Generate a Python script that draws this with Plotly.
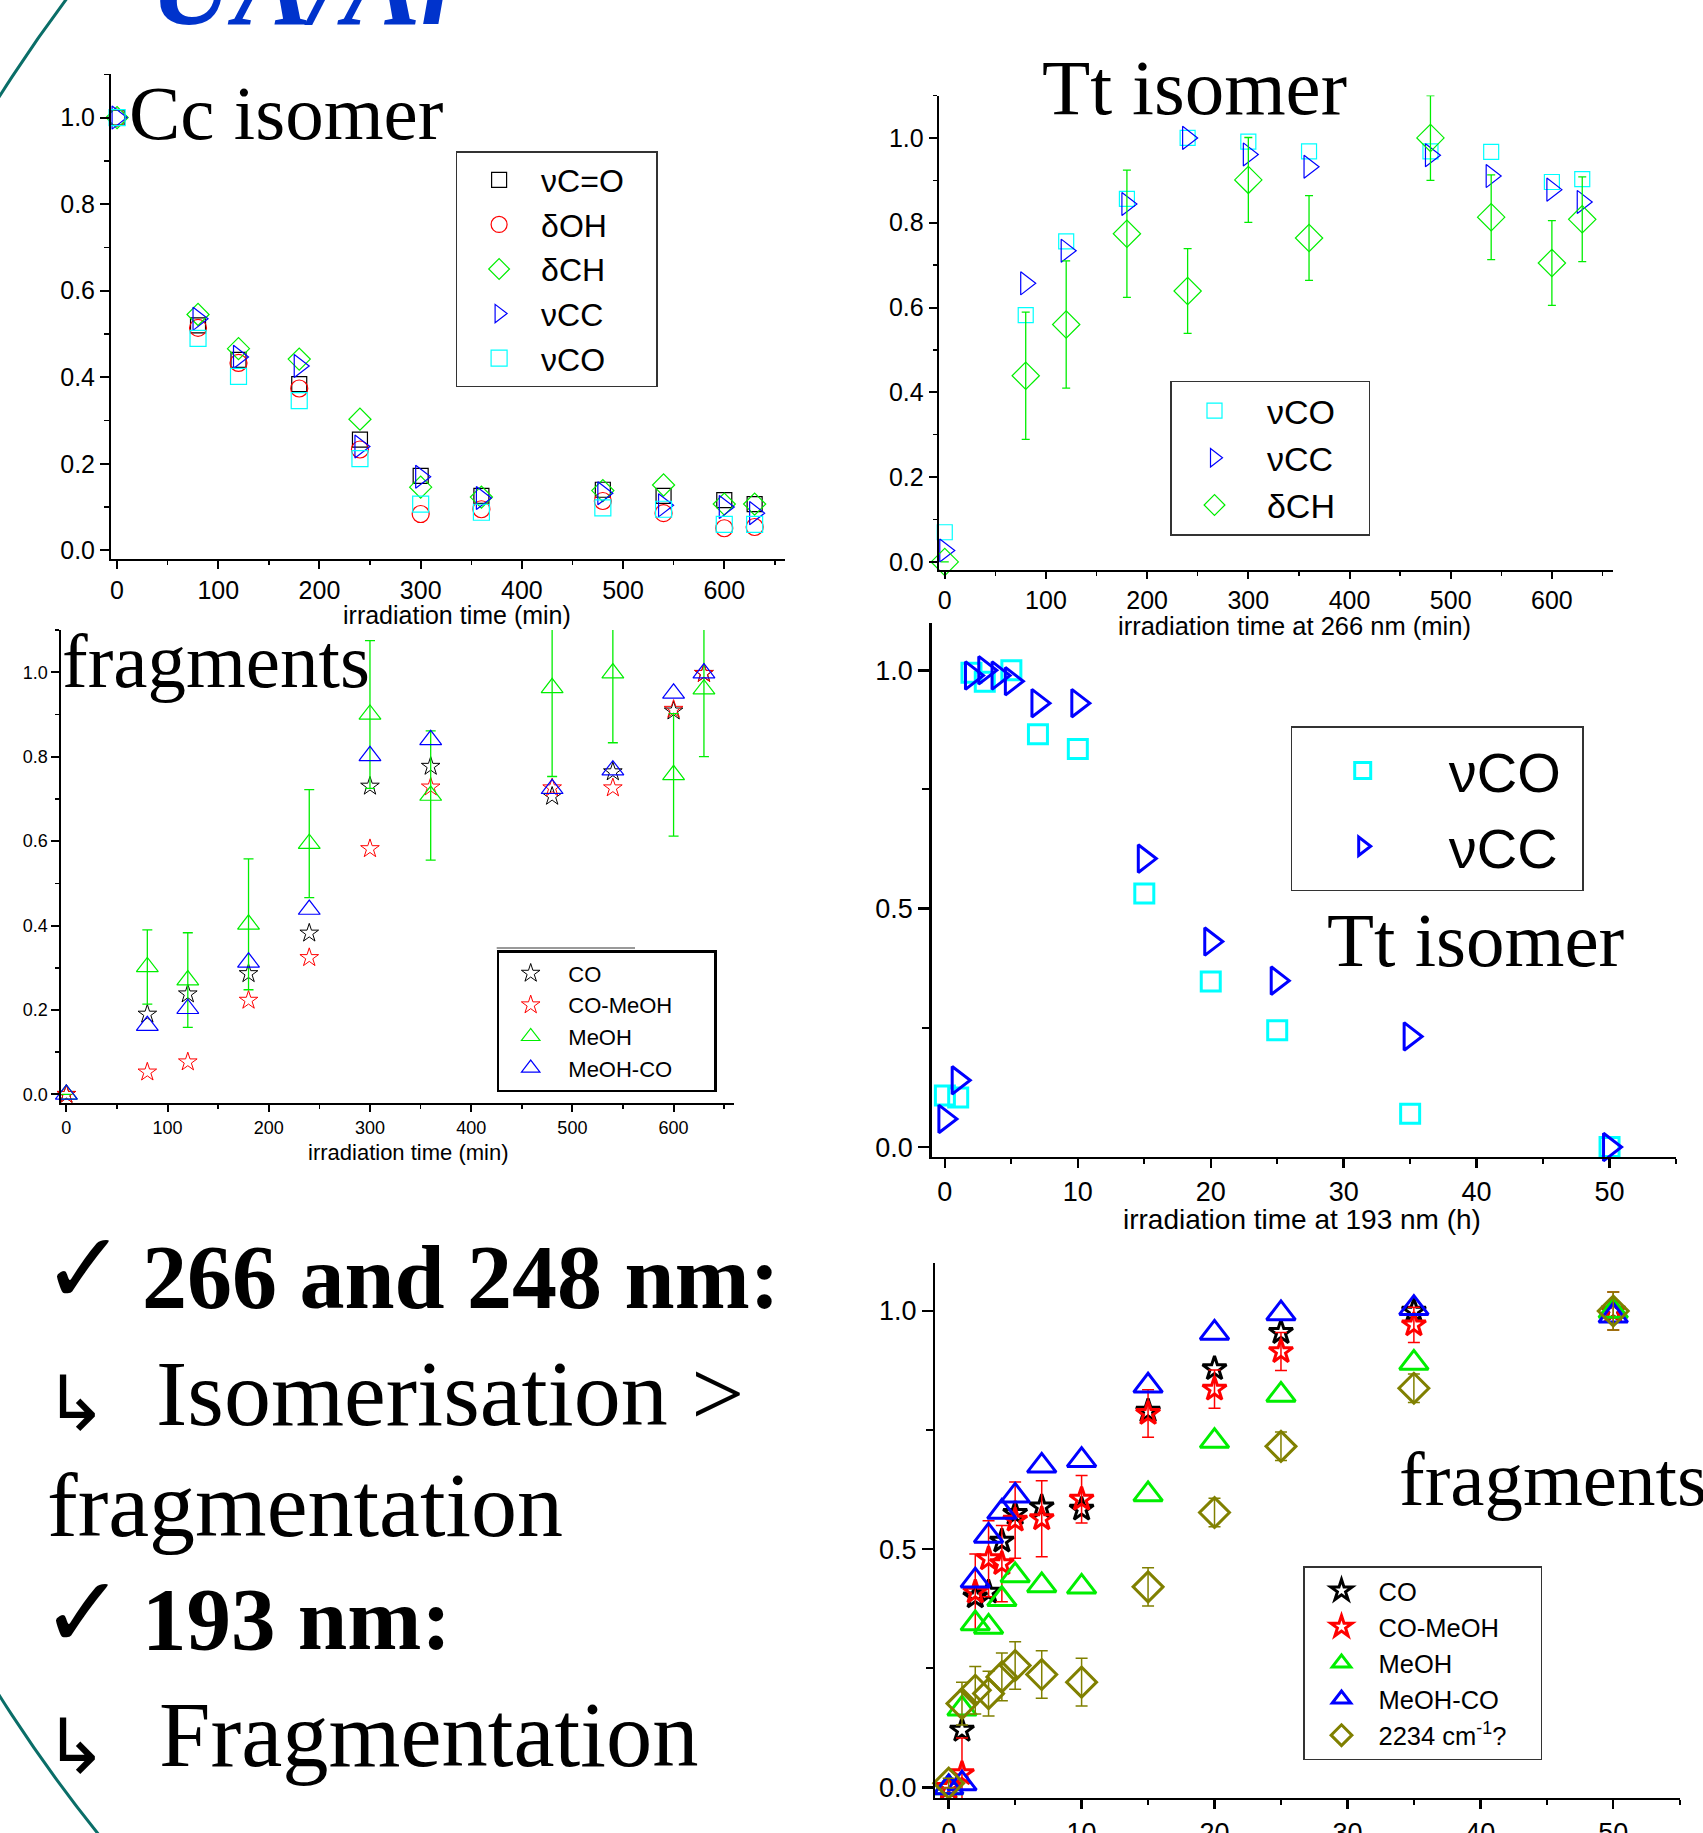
import plotly.graph_objects as go

W, H = 1703, 1833

# ---------------- data ----------------
# Panel A : Cc isomer (266 nm), time in min
cc_time = [0, 80, 120, 180, 240, 300, 360, 480, 540, 600, 630]
cc_vCeqO = [1.0, 0.52, 0.44, 0.384, 0.256, 0.172, 0.126, 0.14, 0.126, 0.116, 0.107]
cc_dOH = [1.0, 0.514, 0.433, 0.374, 0.233, 0.084, 0.095, 0.114, 0.086, 0.051, 0.054]
cc_dCH = [1.0, 0.545, 0.466, 0.442, 0.303, 0.146, 0.123, 0.138, 0.151, 0.107, 0.107]
cc_vCC = [1.0, 0.535, 0.447, 0.426, 0.240, 0.170, 0.121, 0.132, 0.104, 0.100, 0.086]
cc_vCO = [1.0, 0.49, 0.402, 0.346, 0.212, 0.107, 0.088, 0.098, 0.095, 0.060, 0.060]

# Panel B : Tt isomer (266 nm), time in min
tt_time = [0, 80, 120, 180, 240, 300, 360, 480, 540, 600, 630]
tt_vCO = [0.07, 0.582, 0.756, 0.856, 1.0, 0.991, 0.968, 0.968, 0.967, 0.896, 0.903]
tt_vCC = [0.027, 0.657, 0.734, 0.844, 1.0, 0.961, 0.932, 0.959, 0.91, 0.878, 0.849]
tt_dCH = [0.0, 0.439, 0.56, 0.774, 0.639, 0.901, 0.764, 1.0, 0.813, 0.705, 0.808]
tt_dCH_err = [0.0, 0.15, 0.15, 0.15, 0.10, 0.10, 0.10, 0.10, 0.10, 0.10, 0.10]

# Panel C : fragments (266 nm), time in min
fr_time = [0, 80, 120, 180, 240, 300, 360, 480, 540, 600, 630]
fr_CO = [0.0, 0.19, 0.238, 0.286, 0.382, 0.73, 0.777, 0.706, 0.764, 0.908, 0.997]
fr_COMeOH = [0.0, 0.053, 0.077, 0.223, 0.324, 0.582, 0.728, 0.726, 0.726, 0.912, 0.997]
fr_MeOH = [0.0, 0.302, 0.271, 0.403, 0.594, 0.90, 0.708, 0.963, 0.998, 0.757, 0.96]
fr_MeOH_err = [0.0, 0.088, 0.112, 0.155, 0.128, 0.175, 0.153, 0.21, 0.165, 0.145, 0.16]
fr_MeOHCO = [0.0, 0.163, 0.203, 0.313, 0.438, 0.802, 0.84, 0.724, 0.768, 0.95, 0.998]

# Panel D : Tt isomer (193 nm), time in h
t193_vCO_time = [0, 1, 2, 3, 5, 7, 10, 15, 20, 25, 35, 50]
t193_vCO = [0.108, 0.104, 0.995, 0.976, 1.0, 0.866, 0.835, 0.532, 0.347, 0.245, 0.070, 0.0]
t193_vCC_time = [0, 1, 2, 3, 4, 5, 7, 10, 15, 20, 25, 35, 50]
t193_vCC = [0.059, 0.14, 0.989, 1.0, 0.989, 0.977, 0.931, 0.931, 0.605, 0.431, 0.349, 0.232, 0.0]

# Panel E : fragments (193 nm), time in h
f193_time = [0, 1, 2, 3, 4, 5, 7, 10, 15, 20, 25, 35, 50]
f193_CO = [0.0, 0.12, 0.40, 0.41, 0.517, 0.575, 0.589, 0.584, 0.79, 0.879, 0.955, 1.0, 1.0]
f193_COMeOH = [0.0, 0.029, 0.41, 0.48, 0.47, 0.561, 0.564, 0.605, 0.785, 0.836, 0.915, 0.971, 1.0]
f193_COMeOH_err = [0.0, 0.075, 0.08, 0.08, 0.08, 0.08, 0.08, 0.05, 0.05, 0.04, 0.04, 0.037, 0.04]
f193_MeOH = [0.0, 0.165, 0.344, 0.337, 0.395, 0.445, 0.424, 0.421, 0.615, 0.727, 0.824, 0.891, 1.0]
f193_MeOHCO = [0.0, 0.008, 0.434, 0.528, 0.578, 0.612, 0.675, 0.687, 0.843, 0.954, 0.995, 1.006, 0.99]
f193_2234 = [0.009, 0.176, 0.204, 0.197, 0.232, 0.256, 0.237, 0.221, 0.421, 0.577, 0.716, 0.838, 1.0]
f193_2234_err = [0.01, 0.045, 0.05, 0.047, 0.05, 0.05, 0.05, 0.05, 0.04, 0.03, 0.03, 0.03, 0.04]

BLACK, RED, GREEN, BLUE, CYAN, OLIVE = '#000000', '#ff0000', '#00ee00', '#0000ff', '#00ffff', '#808000'
NB = '\u00a0'
SANS = 'Liberation Sans, Arial, sans-serif'
SERIF = 'Liberation Serif, Times New Roman, serif'


def px_x(p):
    return p / W


def px_y(p):
    return 1 - p / H


fig = go.Figure()


def add(x, y, name, symbol, color, size, lw, axn, legend, err=None, errw=4, errth=1.2, clip=False):
    xa = 'x' if axn == 1 else 'x%d' % axn
    ya = 'y' if axn == 1 else 'y%d' % axn
    kw = {}
    if err is not None:
        kw['error_y'] = dict(type='data', array=err, visible=True, color=color, thickness=errth, width=errw)
    fig.add_trace(go.Scatter(
        x=x, y=y, name=name, mode='markers', xaxis=xa, yaxis=ya, legend=legend,
        cliponaxis=clip,
        marker=dict(symbol=symbol, size=size, color=color, line=dict(width=lw, color=color)),
        **kw))


# Panel A
add(cc_time, cc_vCeqO, 'νC=O' + NB * 3, 'square-open', BLACK, 15, 1.2, 1, 'legend')
add(cc_time, cc_dOH, 'δOH', 'circle-open', RED, 17, 1.2, 1, 'legend')
add(cc_time, cc_dCH, 'δCH', 'diamond-open', GREEN, 17, 1.2, 1, 'legend')
add(cc_time, cc_vCC, 'νCC', 'triangle-right-open', BLUE, 20, 1.2, 1, 'legend')
add(cc_time, cc_vCO, 'νCO', 'square-open', CYAN, 16, 1.2, 1, 'legend')

# Panel B
add(tt_time, tt_vCO, NB + 'νCO', 'square-open', CYAN, 15, 1.2, 2, 'legend2')
add(tt_time, tt_vCC, NB + 'νCC', 'triangle-right-open', BLUE, 20, 1.2, 2, 'legend2')
add(tt_time, tt_dCH, NB + 'δCH' + NB * 3, 'diamond-open', GREEN, 21, 1.2, 2, 'legend2',
    err=tt_dCH_err, errw=4, errth=1.3)

# Panel C
add(fr_time, fr_CO, NB + 'CO', 'star-open', BLACK, 14, 1.0, 3, 'legend3')
add(fr_time, fr_COMeOH, NB + 'CO-MeOH' + NB * 6, 'star-open', RED, 14, 1.0, 3, 'legend3')
add(fr_time, fr_MeOH, NB + 'MeOH', 'triangle-up-open', GREEN, 19, 1.2, 3, 'legend3',
    err=fr_MeOH_err, errw=5, errth=1.3, clip=True)
add(fr_time, fr_MeOHCO, NB + 'MeOH-CO', 'triangle-up-open', BLUE, 19, 1.2, 3, 'legend3')

# Panel D
add(t193_vCO_time, t193_vCO, NB + 'νCO' + NB, 'square-open', CYAN, 19, 3, 4, 'legend4')
add(t193_vCC_time, t193_vCC, NB + 'νCC', 'triangle-right-open', BLUE, 24, 3, 4, 'legend4')

# Panel E
add(f193_time, f193_CO, 'CO', 'star-open', BLACK, 18, 3, 5, 'legend5')
add(f193_time, f193_COMeOH, 'CO-MeOH', 'star-open', RED, 18, 3, 5, 'legend5',
    err=f193_COMeOH_err, errw=6, errth=1.5)
add(f193_time, f193_MeOH, 'MeOH', 'triangle-up-open', GREEN, 25, 3, 5, 'legend5')
add(f193_time, f193_MeOHCO, 'MeOH-CO', 'triangle-up-open', BLUE, 25, 3, 5, 'legend5')
add(f193_time, f193_2234, '2234 cm<sup>-1</sup>?' + NB * 4, 'diamond-open', OLIVE, 23, 3, 5, 'legend5',
    err=f193_2234_err, errw=6, errth=1.5)


# ---------------- axes ----------------
def axis(domain, rng, dtick, minor_dtick, fsize, lw, tlen, anchor, fmt=None):
    d = dict(domain=domain, range=rng, dtick=dtick, tick0=0, showline=True, linecolor='black',
             linewidth=lw, ticks='outside', ticklen=tlen, tickwidth=lw, tickcolor='black',
             showgrid=False, zeroline=False, automargin=False, fixedrange=True, anchor=anchor,
             tickfont=dict(family=SANS, size=fsize, color='black'),
             minor=dict(dtick=minor_dtick, tick0=0, ticks='outside', ticklen=max(4, tlen - 4),
                        tickwidth=max(1, lw - 0.5), tickcolor='black', showgrid=False))
    if fmt:
        d['tickformat'] = fmt
    return d


layout_axes = dict(
    xaxis=axis([px_x(111), px_x(785)], [-6, 660], 100, 50, 25, 2, 8, 'y'),
    yaxis=axis([px_y(559), px_y(74.3)], [-0.02, 1.1], 0.2, 0.1, 25, 2, 9, 'x', '.1f'),
    xaxis2=axis([px_x(938.7), px_x(1612.6)], [-6, 660], 100, 50, 25, 2, 7, 'y2'),
    yaxis2=axis([px_y(570.4), px_y(95.5)], [-0.02, 1.1], 0.2, 0.1, 25, 2, 8, 'x2', '.1f'),
    xaxis3=axis([px_x(61.3), px_x(734.3)], [-5, 660], 100, 50, 18, 2, 7, 'y3'),
    yaxis3=axis([px_y(1102.9), px_y(630)], [-0.02, 1.1], 0.2, 0.1, 18, 2, 8, 'x3', '.1f'),
    xaxis4=axis([px_x(931.6), px_x(1676)], [-1, 55], 10, 5, 27, 2.5, 9, 'y4'),
    yaxis4=axis([px_y(1156.6), px_y(622.6)], [-0.02, 1.1], 0.5, 0.25, 27, 2.5, 11, 'x4', '.1f'),
    xaxis5=axis([px_x(935.4), px_x(1679.7)], [-1, 55], 10, 5, 27, 2.5, 9, 'y5'),
    yaxis5=axis([px_y(1797.9), px_y(1263.4)], [-0.022, 1.1], 0.5, 0.25, 27, 2.5, 11, 'x5', '.1f'),
)


# ---------------- legends ----------------
def legend(left, top, fsize, iw, bw=1.5, bcol='#333333'):
    return dict(x=px_x(left), y=px_y(top), xref='paper', yref='paper', xanchor='left', yanchor='top',
                bgcolor='white', bordercolor=bcol, borderwidth=bw, itemwidth=iw, tracegroupgap=0,
                font=dict(family=SANS, size=fsize, color='black'), itemclick=False, itemdoubleclick=False)


legends = dict(
    legend=legend(455.6, 151, 32, 74),
    legend2=legend(1170, 380.5, 34, 76),
    legend3=legend(496.7, 950, 22, 53, bw=2.5, bcol='black'),
    legend4=legend(1290.7, 726, 56, 131),
    legend5=legend(1303, 1566, 25.5, 64),
)

# ---------------- text ----------------
annotations = []


def text_ann(text, left, baseline, size, family=SERIF, color='black', desc=0.216):
    annotations.append(dict(text=text, x=px_x(left), y=px_y(baseline + desc * size + 1), xref='paper',
                            yref='paper', xanchor='left', yanchor='bottom', showarrow=False, align='left',
                            font=dict(family=family, size=size, color=color)))


def center_ann(text, cx, cy, size, family=SANS, color='black'):
    annotations.append(dict(text=text, x=px_x(cx), y=px_y(cy), xref='paper', yref='paper',
                            xanchor='center', yanchor='middle', showarrow=False,
                            font=dict(family=family, size=size, color=color)))


# partially visible slide title
text_ann('<b><i>UA/Ar</i></b>', 148, 25, 116, color='#0033cc')

# panel labels
text_ann('Cc isomer', 127, 140.6, 77)
text_ann('Tt isomer', 1040, 115.4, 79)
text_ann('fragments', 60, 688, 77)
text_ann('Tt isomer', 1325, 967, 77)
text_ann('fragments', 1397, 1506.6, 77)

# axis titles
center_ann('irradiation time (min)', 457.4, 615, 25)
center_ann('irradiation time at 266 nm (min)', 1294.8, 625.5, 25.5)
center_ann('irradiation time (min)', 408, 1152.3, 22)
center_ann('irradiation time at 193 nm (h)', 1301.6, 1219, 28)

# conclusion block
center_ann('✓', 84, 1268, 100, family='DejaVu Sans')
text_ann('<b>266 and 248 nm:</b>', 140, 1309, 90)
center_ann('↳', 76, 1403, 76, family='DejaVu Sans')
text_ann('Isomerisation &gt;', 154, 1426, 94)
text_ann('fragmentation', 45, 1537, 92)
center_ann('✓', 83, 1612, 100, family='DejaVu Sans')
text_ann('<b>193 nm:</b>', 140, 1650, 89)
center_ann('↳', 76, 1746, 76, family='DejaVu Sans')
text_ann('Fragmentation', 157, 1767, 92.5)

# ---------------- decorative shapes ----------------
cx, cy, R = 1265, 896, 1497
shapes = [
    dict(type='circle', xref='paper', yref='paper', x0=px_x(cx - R), x1=px_x(cx + R),
         y0=px_y(cy + R), y1=px_y(cy - R), line=dict(color='#0a6e68', width=3), layer='below'),
    dict(type='line', xref='paper', yref='paper', x0=px_x(496.7), x1=px_x(635), y0=px_y(948),
         y1=px_y(948), line=dict(color='#999999', width=2)),
    dict(type='line', xref='paper', yref='paper', x0=px_x(498), x1=px_x(548), y0=px_y(1085.5),
         y1=px_y(1085.5), line=dict(color='#999999', width=3)),
]

fig.update_layout(
    width=W, height=H, margin=dict(l=0, r=0, t=0, b=0, pad=0), template='none',
    paper_bgcolor='white', plot_bgcolor='rgba(0,0,0,0)', showlegend=True, hovermode=False,
    font=dict(family=SANS, color='black'),
    annotations=annotations, shapes=shapes, **layout_axes, **legends)

fig.write_html('out.html', config={'displayModeBar': False, 'staticPlot': True},
               post_script="document.body.style.margin='0';document.body.style.overflow='hidden';")
